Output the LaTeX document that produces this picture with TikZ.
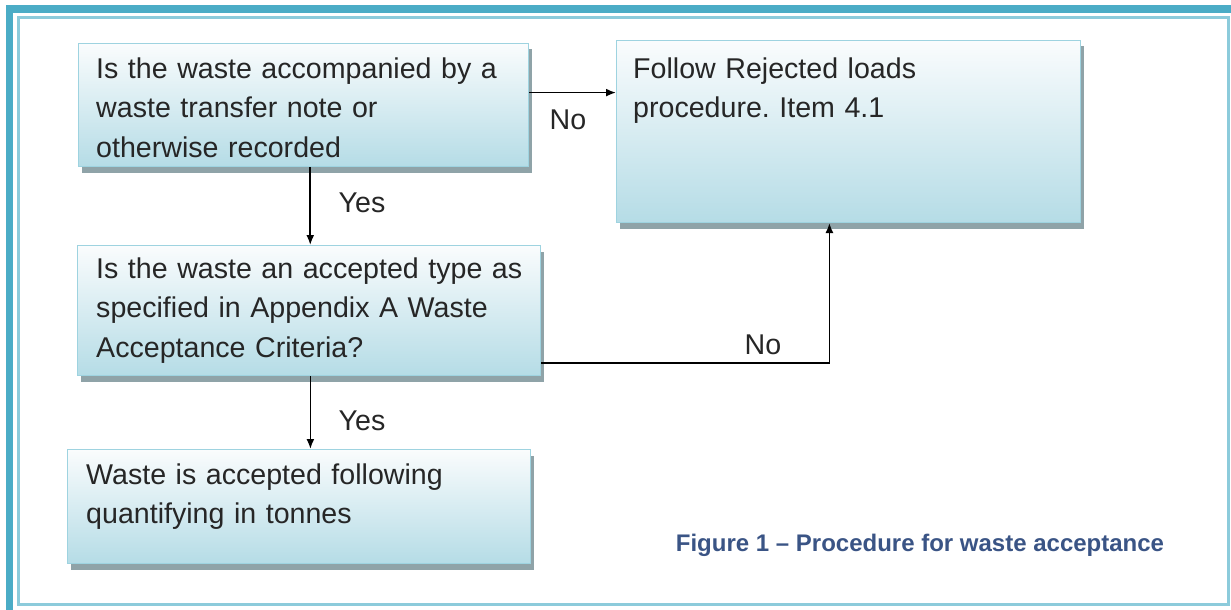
\documentclass[tikz,border=0pt]{standalone}
\usepackage{fontspec}
\setmainfont{Liberation Sans}
\frenchspacing
\usetikzlibrary{arrows.meta, positioning, calc, shadows}
\definecolor{frameteal}{HTML}{4BACC6}
\definecolor{frameline}{HTML}{8CCBDB}
\definecolor{boxline}{HTML}{9ED3E0}
\definecolor{boxtop}{HTML}{FAFCFD}
\definecolor{boxbot}{HTML}{B5DCE6}
\definecolor{boxshadow}{HTML}{8FA3A8}
\definecolor{bodytext}{HTML}{262626}
\definecolor{captionblue}{HTML}{3A5485}

\begin{document}
\begin{tikzpicture}[
    x=1pt, y=-1pt,
    box/.style={rectangle, draw=boxline, line width=1pt, top color=boxtop, bottom color=boxbot, anchor=north west, inner sep=0pt,
        drop shadow={shadow xshift=3pt, shadow yshift=-6pt, fill=boxshadow, opacity=1}},
    boxtext/.style={anchor=base west, inner sep=0pt, align=left, text width=#1, text=bodytext, font=\fontsize{28.6}{39.5}\selectfont},
    lbl/.style={text=bodytext, font=\fontsize{28.6}{34}\selectfont, inner sep=0pt},
    caption/.style={text=captionblue, font=\fontsize{24}{28}\selectfont\bfseries, inner sep=0pt},
    arrow/.style={line width=1.7pt, -{Latex[length=10pt,width=8pt]}}
]
\useasboundingbox (0,0) rectangle (1231,610);

% Page frame
\fill[frameteal] (6,5) rectangle (1231,13);
\fill[frameteal] (6,5) rectangle (13,610);
\draw[frameline, line width=3pt] (18.5,17.5) rectangle (1228.5,604.5);

% Boxes
\node[box, minimum width=450pt, minimum height=123pt] (transfer) at (78,43) {};
\node[box, minimum width=464pt, minimum height=182pt] (rejected) at (616,40) {};
\node[box, minimum width=463pt, minimum height=130pt] (accepted) at (77,245) {};
\node[box, minimum width=463pt, minimum height=114pt] (quantify) at (67,449) {};

% Box texts
\node[boxtext=430pt] (transfer_txt) at (96,78) {Is the waste accompanied by a\\waste transfer note or\\otherwise recorded};
\node[boxtext=440pt] (rejected_txt) at (633,78) {Follow Rejected loads\\procedure. Item 4.1};
\node[boxtext=440pt] (accepted_txt) at (96,278) {Is the waste an accepted type as\\specified in Appendix A Waste\\Acceptance Criteria?};
\node[boxtext=440pt] (quantify_txt) at (86,484) {Waste is accepted following\\quantifying in tonnes};

% Arrows
\coordinate (no_a) at ($(transfer.north east)!0.4!(transfer.south east)$);
\draw[arrow] (no_a) -- (no_a -| rejected.west);
\coordinate (yes_a) at ($(transfer.south west)!0.515!(transfer.south east)$);
\draw[arrow] (yes_a) -- (yes_a |- accepted.north);
\coordinate (no_b) at ($(accepted.north east)!0.9!(accepted.south east)$);
\draw[arrow] (no_b) -| ($(rejected.south west)!0.459!(rejected.south east)$);
\coordinate (yes_b) at ($(accepted.south west)!0.503!(accepted.south east)$);
\draw[arrow] (yes_b) -- (yes_b |- quantify.north);

% Labels
\node[lbl] (no_a_lbl) at (568,120) {No};
\node[lbl] (yes_a_lbl) at (362,203) {Yes};
\node[lbl] (no_b_lbl) at (763,345) {No};
\node[lbl] (yes_b_lbl) at (362,421) {Yes};

% Caption
\node[caption] (fig_caption) at (920,545) {Figure 1 – Procedure for waste acceptance};

\end{tikzpicture}
\end{document}
